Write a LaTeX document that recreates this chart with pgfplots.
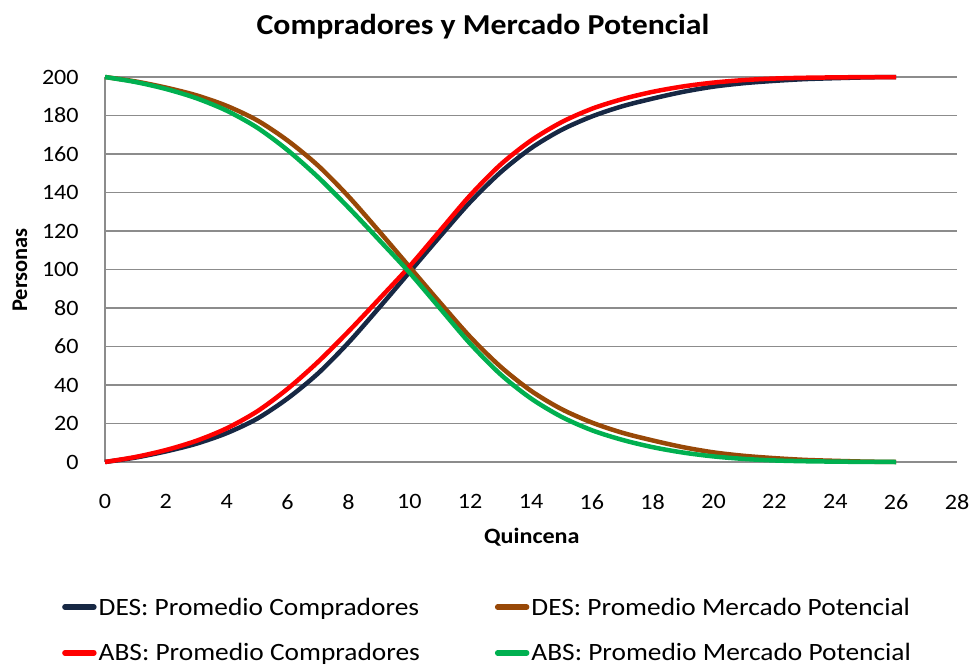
\documentclass[border=0pt]{standalone}
\usepackage{fontspec}
\setmainfont{Carlito}[FakeStretch=1.1]
\newfontfamily\plainfont{Carlito}
\usepackage{pgfplots}
\pgfplotsset{compat=1.18}
\definecolor{cNavy}{RGB}{23,40,68}
\definecolor{cBrown}{RGB}{152,72,7}
\definecolor{cRed}{RGB}{255,0,0}
\definecolor{cGreen}{RGB}{0,176,80}
\definecolor{cGrid}{RGB}{140,140,140}

\begin{document}
\begin{tikzpicture}
\path[use as bounding box] (-105bp,-204bp) rectangle (866bp,462bp);
\begin{axis}[
  at={(0,0)}, anchor=south west,
  scale only axis,
  width=852bp, height=385bp,
  xmin=0, xmax=28, ymin=0, ymax=200,
  xtick={0,2,...,28},
  ytick={0,20,...,200},
  /pgf/number format/assume math mode=true,
  tick style={draw=none},
  axis x line=bottom, axis y line=left,
  axis line style={-, draw=cGrid, line width=1.3bp},
  x axis line style={draw=none},
  ymajorgrids,
  grid style={draw=cGrid, line width=1.3bp},
  clip=false,
  ticklabel style={font=\fontsize{22}{26}\selectfont, inner sep=0pt},
  yticklabel style={anchor=east, xshift=-24bp},
  xticklabel style={anchor=north, yshift=-30bp},
  title={Compradores y Mercado Potencial},
  title style={font=\fontsize{29}{34}\selectfont\bfseries, at={(axis description cs:0.4437,1.114)}, anchor=center},
  xlabel={Quincena},
  xlabel style={font=\fontsize{22}{26}\selectfont\bfseries, at={(axis description cs:0.501,-0.195)}, anchor=center},
  ylabel={Personas},
  ylabel style={font=\plainfont\fontsize{22.5}{26}\selectfont\bfseries, at={(axis description cs:-0.0998,0.4987)}, anchor=center},
  legend columns=2,
  legend cell align=left,
  legend style={
    at={(axis description cs:-0.0505,-0.352)}, anchor=north west,
    draw=none, fill=none, inner sep=0pt,
    font=\fontsize{25}{29}\selectfont,
    row sep=27bp,
    nodes={inner sep=0pt},
    /tikz/every odd column/.append style={column sep=2bp},
    /tikz/every even column/.append style={column sep=75bp},
  },
  legend image code/.code={\draw[#1, line width=5.5bp, line cap=round] (2bp,0bp) -- (31bp,0bp);},
  every axis plot/.append style={line width=4.5bp, smooth, mark=none},
]
\addplot[cNavy] coordinates {
(0,0) (1,2.3) (2,5.5) (3,9.5) (4,15) (5,22.5) (6,33) (7,46) (8,62) (9,80)
(10,98.5) (11,117) (12,135) (13,150.5) (14,163) (15,172.5) (16,179.5) (17,184.8)
(18,188.8) (19,192.3) (20,195) (21,196.8) (22,198) (23,198.9) (24,199.4) (25,199.8) (26,200)};
\addlegendentry{DES: Promedio Compradores}
\addplot[cBrown] coordinates {
(0,200) (1,197.7) (2,194.5) (3,190.5) (4,185) (5,177.5) (6,167) (7,154) (8,138) (9,120)
(10,101.5) (11,83) (12,65) (13,49.5) (14,37) (15,27.5) (16,20.5) (17,15.2)
(18,11.2) (19,7.7) (20,5) (21,3.2) (22,2) (23,1.1) (24,0.6) (25,0.2) (26,0)};
\addlegendentry{DES: Promedio Mercado Potencial}
\addplot[cRed] coordinates {
(0,0) (1,2.6) (2,6.2) (3,11) (4,17.5) (5,26.3) (6,38) (7,52) (8,67.8) (9,84.5)
(10,101.5) (11,120) (12,138.5) (13,154.5) (14,167) (15,176.5) (16,183.5) (17,188.5)
(18,192.3) (19,195.1) (20,197.1) (21,198.4) (22,199.2) (23,199.6) (24,199.8) (25,199.95) (26,200)};
\addlegendentry{ABS: Promedio Compradores}
\addplot[cGreen] coordinates {
(0,200) (1,197.4) (2,193.8) (3,189) (4,182.5) (5,173.7) (6,162) (7,148) (8,132.2) (9,115.5)
(10,98.5) (11,80) (12,61.5) (13,45.5) (14,33) (15,23.5) (16,16.5) (17,11.5)
(18,7.7) (19,4.9) (20,2.9) (21,1.6) (22,0.8) (23,0.4) (24,0.2) (25,0.05) (26,0)};
\addlegendentry{ABS: Promedio Mercado Potencial}
\end{axis}
\end{tikzpicture}
\end{document}
